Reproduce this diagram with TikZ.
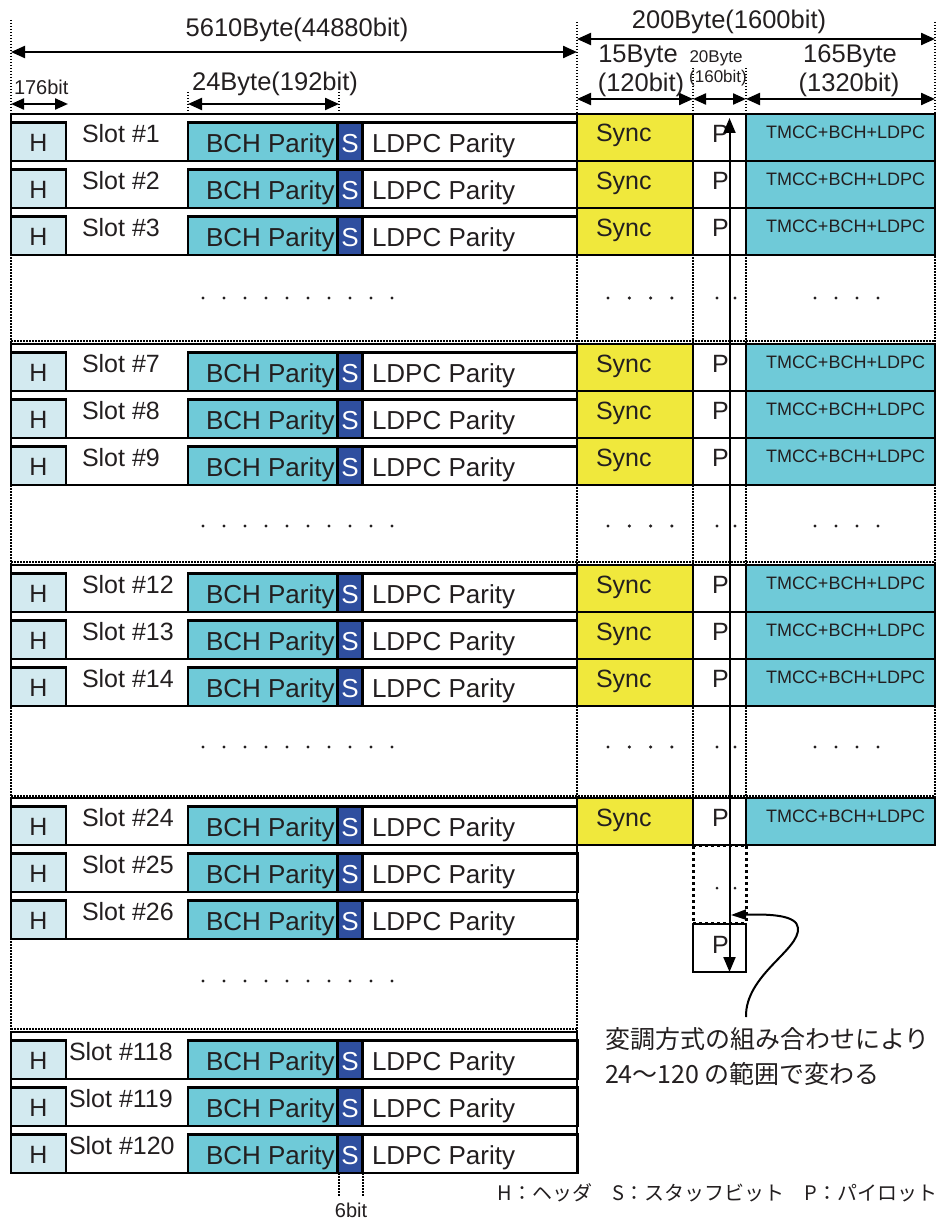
\documentclass[tikz,border=0pt]{standalone}
\usepackage{fontspec}
\setmainfont{Liberation Sans}
\newfontfamily\jpfont{Noto Sans CJK JP}
\usetikzlibrary{arrows.meta}
\definecolor{hfill}{HTML}{D3EAF0}
\definecolor{bchfill}{HTML}{6FCAD8}
\definecolor{sfill}{HTML}{2F4F9F}
\definecolor{syncfill}{HTML}{F0E83C}
\definecolor{txt}{HTML}{231F20}
\begin{document}
\begin{tikzpicture}[x=1pt,y=-1pt,
  every node/.style={inner sep=0pt, outer sep=0pt, text=txt},
  box/.style={draw=black, line width=2.3pt, anchor=north west, minimum height=38.5pt},
  rowout/.style={draw=black, line width=2.5pt, anchor=north west, minimum width=566pt, minimum height=47pt, fill=white},
  hbox/.style={box, fill=hfill, minimum width=55pt},
  bchbox/.style={box, fill=bchfill, minimum width=149.5pt},
  sbox/.style={box, fill=sfill, minimum width=25pt},
  ldpcbox/.style={box, fill=white, minimum width=215pt},
  syncbox/.style={draw=black, line width=2.3pt, anchor=north west, fill=syncfill, minimum width=116pt, minimum height=47pt},
  pcell/.style={draw=black, line width=1.8pt, anchor=north west, fill=white, minimum width=53pt, minimum height=47pt},
  tmccbox/.style={draw=black, line width=2.5pt, anchor=north west, fill=bchfill, minimum width=189pt, minimum height=47pt},
  lbl/.style={font=\fontsize{25}{25}\selectfont},
  diml/.style={font=\fontsize{25.5}{25.5}\selectfont},
  bigl/.style={font=\fontsize{26}{26}\selectfont},
  tmccl/.style={font=\fontsize{18}{18}\selectfont},
  tinyl/.style={font=\fontsize{17}{17}\selectfont},
  midl/.style={font=\fontsize{20}{20}\selectfont},
  jpl/.style={font=\jpfont\fontsize{25}{25}\selectfont},
  legl/.style={font=\jpfont\fontsize{20}{20}\selectfont},
  dotline/.style={line width=2pt, dash pattern=on 1.5pt off 1.5pt},
  dotbig/.style={line width=3pt, dash pattern=on 3pt off 3pt},
  dim/.style={line width=2.2pt, {Triangle[length=14pt,width=12pt]}-{Triangle[length=14pt,width=12pt]}},
  dimsmall/.style={line width=2.2pt, {Triangle[length=13pt,width=11pt]}-{Triangle[length=13pt,width=11pt]}},
  dotmark/.style={fill=txt}
]
\useasboundingbox (0,0) rectangle (939,1220);
\fill[white] (0,0) rectangle (939,1220);

% ---------- dotted guide lines ----------
\draw[dotline] (11,20) -- (11,1032);
\draw[dotline] (577,22) -- (577,1032);
\draw[dotline] (935,22) -- (935,798);
\draw[dotline] (693,68) -- (693,845);
\draw[dotline] (746,68) -- (746,845);
\draw[dotline] (188,92) -- (188,114);
\draw[dotline] (339,92) -- (339,114);
\draw[dotline] (339,1173) -- (339,1197);
\draw[dotline] (363,1173) -- (363,1197);
\foreach \yy in {255,341,485,562,706,796}{
  \draw[dotline] (11,\yy) -- (935,\yy);
}
\draw[dotline] (11,939) -- (577,939);
\draw[dotline] (11,1029) -- (577,1029);

% ---------- dimension arrows ----------
\coordinate (d1a) at (11,52);   \coordinate (d1b) at (577,52);
\coordinate (d2a) at (577,39);  \coordinate (d2b) at (935,39);
\coordinate (d3a) at (577,99);  \coordinate (d3b) at (693,99);
\coordinate (d4a) at (693,99);  \coordinate (d4b) at (746,99);
\coordinate (d5a) at (746,99);  \coordinate (d5b) at (935,99);
\coordinate (d6a) at (11,104);  \coordinate (d6b) at (68,104);
\coordinate (d7a) at (188,104); \coordinate (d7b) at (339,104);
\draw[dim] (d1a) -- (d1b);
\draw[dim] (d2a) -- (d2b);
\draw[dim] (d3a) -- (d3b);
\draw[dimsmall] (d4a) -- (d4b);
\draw[dim] (d5a) -- (d5b);
\draw[dimsmall] (d6a) -- (d6b);
\draw[dim] (d7a) -- (d7b);

\node[diml, anchor=base] (t5610) at (297,37) {5610Byte(44880bit)};
\node[diml, anchor=base] (t200) at (729,29) {200Byte(1600bit)};
\node[diml, anchor=base] (t15a) at (638,63) {15Byte};
\node[diml, anchor=base] (t15b) at (641,91.5) {(120bit)};
\node[tinyl, anchor=base] (t20a) at (716,63) {20Byte};
\node[tinyl, anchor=base] (t20b) at (718,83) {(160bit)};
\node[diml, anchor=base] (t165a) at (850,63) {165Byte};
\node[diml, anchor=base] (t165b) at (849,91.5) {(1320bit)};
\node[midl, anchor=base west] (t176) at (14,95) {176bit};
\node[diml, anchor=base] (t24) at (275,90.5) {24Byte(192bit)};
\node[midl, anchor=base] (t6) at (351,1217) {6bit};

% ---------- slot rows ----------
\foreach \n/\t/\s/\lx/\rt in {r1/114/1/82/1, r2/161/2/82/1, r3/208/3/82/1,
  r7/344/7/82/1, r8/391/8/82/1, r9/438/9/82/1,
  r12/565/12/82/1, r13/612/13/82/1, r14/659/14/82/1,
  r24/798/24/82/1, r25/845/25/82/0, r26/892/26/82/0,
  r118/1032/118/69/0, r119/1079/119/69/0, r120/1126/120/69/0}{
  \node[rowout] (\n-o) at (11,\t) {};
  \node[hbox] (\n-h) at (11,{\t+8.5}) {};
  \node[bchbox] (\n-b) at (188,{\t+8.5}) {};
  \node[sbox] (\n-s) at (337.5,{\t+8.5}) {};
  \node[ldpcbox] (\n-l) at (362.5,{\t+8.5}) {};
  \node[lbl, anchor=base] (\n-ht) at (38.5,{\t+37.7}) {H};
  \node[lbl, anchor=base west] (\n-slt) at (\lx,{\t+28.7}) {Slot \#\s};
  \node[bigl, anchor=base west] (\n-bt) at (206,{\t+38}) {BCH Parity};
  \node[bigl, anchor=base, text=white] (\n-st) at (350,{\t+38}) {S};
  \node[bigl, anchor=base west] (\n-lt) at (372,{\t+38}) {LDPC Parity};
  \ifnum\rt=1
    \node[syncbox] (\n-sy) at (577,\t) {};
    \node[pcell] (\n-p) at (693,\t) {};
    \node[tmccbox] (\n-tm) at (746,\t) {};
    \node[lbl, anchor=base west] (\n-syt) at (596,{\t+28}) {Sync};
    \node[lbl, anchor=base west] (\n-pt) at (712,{\t+28.7}) {P};
    \node[tmccl, anchor=base west] (\n-tmt) at (766,{\t+24.3}) {TMCC+BCH+LDPC};
  \fi
}

% ---------- ellipsis dots ----------
\foreach \yy in {298,526,747}{
  \foreach \i in {0,...,9}{ \fill[dotmark] ({203+21*\i},\yy) circle (1.7pt); }
  \foreach \i in {0,...,3}{ \fill[dotmark] ({608+21.3*\i},\yy) circle (1.7pt); }
  \fill[dotmark] (717,\yy) circle (1.7pt);
  \fill[dotmark] (735,\yy) circle (1.7pt);
  \foreach \i in {0,...,3}{ \fill[dotmark] ({815+21*\i},\yy) circle (1.7pt); }
}
\foreach \i in {0,...,9}{ \fill[dotmark] ({203+21*\i},981) circle (1.7pt); }

% ---------- lower pilot column ----------
\draw[dotbig] (693,846) -- (693,923);
\draw[dotbig] (746,846) -- (746,923);
\draw[dotbig] (693,845) -- (746,845);
\draw[dotbig] (693,923) -- (746,923);
\fill[dotmark] (717,888) circle (1.5pt);
\fill[dotmark] (735,888) circle (1.5pt);
\node[draw=black, line width=1.5pt, anchor=north west, minimum width=53pt, minimum height=48pt] (pb) at (693,924) {};
\node[lbl, anchor=base west] (pbt) at (712,953) {P};

% ---------- pilot range arrow ----------
\coordinate (va-top) at (729.5,118);
\coordinate (va-bot) at (729.5,972);
\draw[line width=2pt, {Triangle[length=15pt,width=12pt]}-{Triangle[length=15pt,width=12pt]}] (va-top) -- (va-bot);

\coordinate (cv-s) at (746,1017);
\coordinate (cv-e) at (731,915);
\draw[line width=2pt, -{Triangle[length=15pt,width=10pt]}] (cv-s) .. controls (745,975) and (800,950) .. (798,928) .. controls (797,915) and (770,914) .. (cv-e);

% ---------- notes ----------
\node[jpl, anchor=west] (note1) at (605,1039) {変調方式の組み合わせにより};
\node[jpl, anchor=west] (note2) at (605,1074) {24〜120 の範囲で変わる};
\node[legl, anchor=east] (legend) at (937,1193) {H：ヘッダ　S：スタッフビット　P：パイロット};
\end{tikzpicture}
\end{document}
